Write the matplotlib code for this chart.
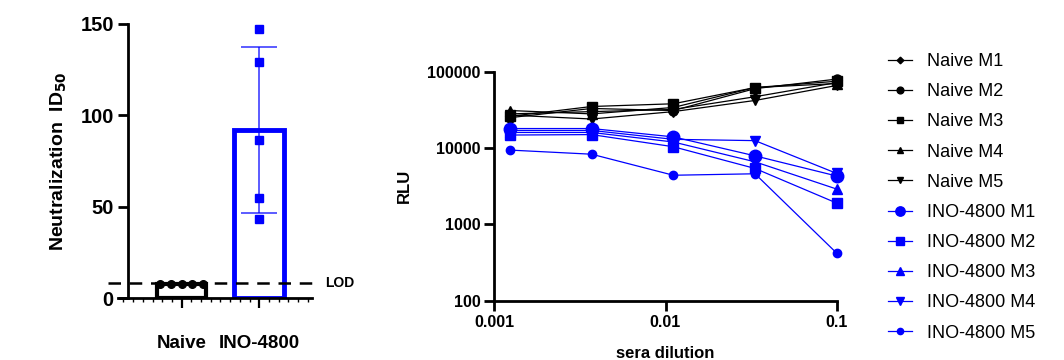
import numpy as np
import matplotlib
matplotlib.use('Agg')
import matplotlib.pyplot as plt
from matplotlib.ticker import MultipleLocator, FixedLocator, NullLocator, FixedFormatter

plt.rcParams['font.family'] = ['Liberation Sans', 'DejaVu Sans']

# ---- left panel data (ID50 per mouse)
groups = ['Naive', 'INO-4800']
naive_id50 = [7.5, 7.5, 7.5, 7.5, 7.5]
ino_id50 = [147, 129, 86.5, 54.5, 43]
lod = 8

# ---- right panel data (RLU vs sera dilution)
dilution = [1/810, 1/270, 1/90, 1/30, 1/10]
naive_m1 = [28000, 30000, 32000, 47000, 72000]
naive_m2 = [25000, 33000, 31000, 60000, 80000]
naive_m3 = [26000, 35000, 38000, 62000, 75000]
naive_m4 = [31000, 28000, 34000, 62000, 70000]
naive_m5 = [27000, 24000, 30000, 42000, 66000]
ino_m1 = [18000, 18000, 14000, 7900, 4300]
ino_m2 = [14800, 15000, 10400, 5400, 1900]
ino_m3 = [16000, 16000, 12000, 6600, 2900]
ino_m4 = [17000, 17000, 13000, 12500, 4650]
ino_m5 = [9400, 8300, 4400, 4600, 420]

labels = ['Naive M1', 'Naive M2', 'Naive M3', 'Naive M4', 'Naive M5',
          'INO-4800 M1', 'INO-4800 M2', 'INO-4800 M3', 'INO-4800 M4', 'INO-4800 M5']
series = [naive_m1, naive_m2, naive_m3, naive_m4, naive_m5,
          ino_m1, ino_m2, ino_m3, ino_m4, ino_m5]
markers = ['D', 'o', 's', '^', 'v', 'o', 's', '^', 'v', 'o']
msizes = [4.5, 6.5, 6.5, 6.5, 6.5, 9, 7, 7, 7, 6]

BLUE = '#0000ff'
BLACK = '#000000'

fig = plt.figure(figsize=(10.64, 3.6), dpi=100)

# ================= left panel
ax1 = fig.add_axes([118/1064, 62/360, 194/1064, 274/360])
x = np.arange(len(groups))
means = [np.mean(naive_id50), np.mean(ino_id50)]
sd_ino = np.std(ino_id50, ddof=1)

ax1.bar(x[0], means[0], width=0.64, facecolor='white', edgecolor=BLACK, linewidth=3, zorder=2)
ax1.bar(x[1], means[1], width=0.64, facecolor='white', edgecolor=BLUE, linewidth=3.5, zorder=2)
ax1.errorbar(x[1], means[1], yerr=sd_ino, color=BLUE, lw=1.2, capsize=13, capthick=1.2,
             alpha=0.75, zorder=3)

offs = (np.arange(len(naive_id50)) - 2) * 0.138
ax1.plot(x[0] + offs, naive_id50, 'o', color=BLACK, ms=5.5, zorder=4, clip_on=False)
ax1.plot(np.full(len(ino_id50), x[1]), ino_id50, 's', color=BLUE, ms=6, zorder=4)

ax1.plot([-0.05, 1.04], [lod, lod], '--', color=BLACK, lw=1.8, dashes=(5, 3.5),
         transform=ax1.get_yaxis_transform(), clip_on=False, zorder=5)
ax1.text(1.07, lod, 'LOD', transform=ax1.get_yaxis_transform(), fontsize=10,
         fontweight='bold', va='center', ha='left')

ax1.set_xlim(-0.82, 1.68)
ax1.set_ylim(0, 150)
ax1.spines['top'].set_visible(False)
ax1.spines['right'].set_visible(False)
ax1.spines['left'].set_position(('axes', 0.05))
for s in ['left', 'bottom']:
    ax1.spines[s].set_linewidth(2)
ax1.set_yticks([0, 50, 100, 150])
ax1.set_xticks(x)
ax1.set_xticklabels(groups)
ax1.xaxis.set_minor_locator(MultipleLocator(0.125))
ax1.tick_params(axis='y', length=7, width=2, labelsize=14.5, pad=3)
ax1.tick_params(axis='x', which='major', length=7, width=1.6, labelsize=13.5, pad=20)
ax1.tick_params(axis='x', which='minor', length=3, width=1)
for lab in ax1.get_xticklabels() + ax1.get_yticklabels():
    lab.set_fontweight('bold')
ax1.set_ylabel('Neutralization  ID$_{\\mathbf{50}}$', fontsize=14, fontweight='bold', labelpad=8)

# ================= right panel
ax2 = fig.add_axes([494.3/1064, (360-300.7)/360, 342.4/1064, 229/360])
for i, (ys, lab) in enumerate(zip(series, labels)):
    c = BLACK if i < 5 else BLUE
    ax2.plot(dilution, ys, color=c, lw=0.9, marker=markers[i], ms=msizes[i],
             mec=c, mfc=c, label=lab, clip_on=False)

ax2.set_xscale('log')
ax2.set_yscale('log')
ax2.set_xlim(0.001, 0.1)
ax2.set_ylim(100, 100000)
ax2.xaxis.set_major_locator(FixedLocator([0.001, 0.01, 0.1]))
ax2.xaxis.set_major_formatter(FixedFormatter(['0.001', '0.01', '0.1']))
ax2.xaxis.set_minor_locator(NullLocator())
ax2.yaxis.set_major_locator(FixedLocator([100, 1000, 10000, 100000]))
ax2.yaxis.set_major_formatter(FixedFormatter(['100', '1000', '10000', '100000']))
ax2.yaxis.set_minor_locator(NullLocator())
ax2.spines['top'].set_visible(False)
ax2.spines['right'].set_visible(False)
for s in ['left', 'bottom']:
    ax2.spines[s].set_linewidth(2)
ax2.tick_params(length=7, width=2, labelsize=11.5, pad=3)
for lab in ax2.get_xticklabels() + ax2.get_yticklabels():
    lab.set_fontweight('bold')
ax2.set_xlabel('sera dilution', fontsize=12, fontweight='bold', labelpad=12)
ax2.set_ylabel('RLU', fontsize=12, fontweight='bold', labelpad=11)

ax2.legend(loc='upper left', bbox_to_anchor=(888/1064, 1 - 53/360),
           bbox_transform=fig.transFigure, frameon=False, fontsize=13,
           handlelength=1.35, handletextpad=0.83, labelspacing=0.73, borderaxespad=0,
           borderpad=0, markerscale=0.75)

fig.savefig('out.png', dpi=100)
